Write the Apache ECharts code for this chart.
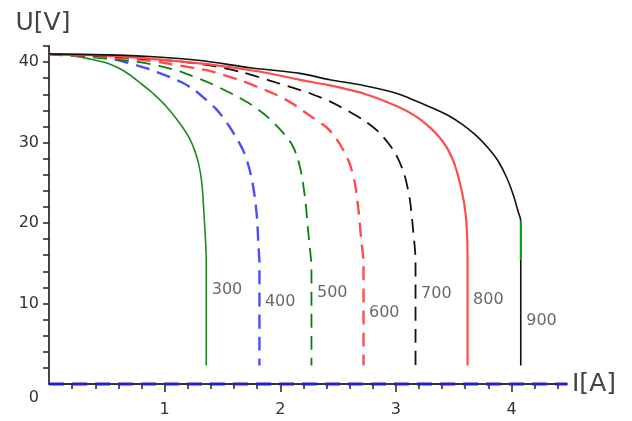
<!DOCTYPE html>
<html>
<head>
<meta charset="utf-8">
<script src="https://cdn.jsdelivr.net/npm/echarts@6/dist/echarts.min.js"></script>
<style>html,body{margin:0;padding:0;background:#fff;}#c{width:632px;height:421px;}</style>
</head>
<body>
<div id="c"></div>
<script>
// ---- data ----
var names = ['300', '400', '500', '600', '700', '800', '900'];

var i300 = [0, 0.2, 0.35, 0.5, 0.61, 0.7, 0.78, 0.86, 0.93, 1.02, 1.1, 1.17, 1.22, 1.26, 1.29, 1.31, 1.325, 1.335, 1.345, 1.355, 1.36, 1.36];
var u300 = [41, 40.8, 40.4, 39.9, 39.2, 38.4, 37.5, 36.6, 35.7, 34.4, 33.0, 31.6, 30.4, 29.0, 27.6, 26.2, 24.5, 22.5, 20.0, 17.5, 15.5, 2.3];

var i400 = [0, 0.2, 0.44, 0.61, 0.78, 0.87, 0.98, 1.05, 1.16, 1.26, 1.36, 1.45, 1.5, 1.56, 1.62, 1.68, 1.72, 1.755, 1.78, 1.8, 1.81, 1.82, 1.82];
var u400 = [41, 40.8, 40.6, 40.2, 39.5, 39.1, 38.5, 38.1, 37.4, 36.5, 35.3, 34.1, 33.2, 32.0, 30.6, 29.0, 27.4, 25.4, 23.2, 20.5, 17.5, 15.0, 2.3];

var i500 = [0, 0.3, 0.6, 0.78, 0.96, 1.16, 1.39, 1.59, 1.74, 1.89, 2.02, 2.1, 2.15, 2.19, 2.22, 2.24, 2.26, 2.27, 2.27];
var u500 = [41, 40.7, 40.3, 40.0, 39.5, 38.7, 37.4, 36.0, 34.8, 33.2, 31.3, 29.8, 28.1, 25.6, 22.4, 19.2, 16.4, 14.5, 2.3];

var i600 = [0, 0.4, 0.8, 1.04, 1.2, 1.39, 1.68, 1.94, 2.1, 2.23, 2.4, 2.48, 2.54, 2.6, 2.645, 2.675, 2.7, 2.72, 2.72];
var u600 = [41, 40.7, 40.3, 39.8, 39.4, 38.9, 37.6, 36.1, 34.9, 33.6, 31.9, 30.6, 29.2, 27.4, 25.0, 21.8, 18.0, 15.0, 2.3];

var i700 = [0, 0.5, 1.04, 1.39, 1.68, 1.91, 2.26, 2.46, 2.72, 2.86, 2.99, 3.07, 3.12, 3.15, 3.17, 3.17];
var u700 = [41, 40.7, 40.2, 39.6, 38.7, 37.7, 36.1, 34.9, 32.8, 31.2, 28.8, 26.2, 23.0, 19.0, 15.4, 2.3];

var i800 = [0, 0.5, 0.96, 1.45, 1.83, 2.17, 2.43, 2.72, 3.01, 3.18, 3.3, 3.38, 3.44, 3.5, 3.55, 3.59, 3.61, 3.62, 3.62];
var u800 = [41, 40.8, 40.3, 39.6, 38.8, 37.8, 37.1, 36.1, 34.5, 33.2, 31.8, 30.6, 29.4, 27.6, 25.2, 22.5, 20.0, 16.0, 2.3];

var i900 = [0, 0.5, 0.87, 1.31, 1.74, 2.17, 2.43, 2.72, 3.01, 3.3, 3.45, 3.58, 3.7, 3.8, 3.88, 3.96, 4.02, 4.06, 4.08, 4.08, 4.08];
var u900 = [41, 40.9, 40.7, 40.2, 39.3, 38.6, 37.8, 37.1, 36.1, 34.4, 33.4, 32.2, 30.8, 29.3, 27.8, 25.6, 23.3, 21.3, 20.3, 15.4, 2.3];

// short green piece on the 900 curve's drop
var i900g = [4.08, 4.08];
var u900g = [20.3, 15.4];

// open-circuit line drawn along U = 0
var iZero = [0, 4.48];
var uZero = [0, 0];

// curve annotation labels: placed at (I, U)
var labelI = [1.36, 1.82, 2.27, 2.72, 3.17, 3.62, 4.08];
var labelU = [11.7, 10.2, 11.3, 8.9, 11.2, 10.4, 7.8];

// axis ticks
var xMajorTicks = [1, 2, 3, 4];
var xMinorTicks = [0.2, 0.4, 0.6, 0.8, 1.2, 1.4, 1.6, 1.8, 2.2, 2.4, 2.6, 2.8, 3.2, 3.4, 3.6, 3.8, 4.2, 4.4];
var xTickLabels = [1, 2, 3, 4];
var yTicks = [2, 4, 6, 8, 10, 12, 14, 16, 18, 20, 22, 24, 26, 28, 30, 32, 34, 36, 38, 40, 42];
var yTickLabels = [0, 10, 20, 30, 40];

// ---- build ----
function pairs(a, b) { return a.map(function (v, k) { return [v, b[k]]; }); }

var FONT = 'DejaVu Sans';
var curves = [
  { name: '300', d: pairs(i300, u300), color: '#1f8a1f', type: 'solid', w: 1.6 },
  { name: '400', d: pairs(i400, u400), color: '#4d4dff', type: [14, 8], w: 2.4 },
  { name: '500', d: pairs(i500, u500), color: '#0a800a', type: [14, 8], w: 1.8 },
  { name: '600', d: pairs(i600, u600), color: '#ff4d4d', type: [14, 8], w: 2.4 },
  { name: '700', d: pairs(i700, u700), color: '#111111', type: [14, 8], w: 1.8 },
  { name: '800', d: pairs(i800, u800), color: '#ff4d4d', type: 'solid', w: 2.2 },
  { name: '900', d: pairs(i900, u900), color: '#111111', type: 'solid', w: 1.6 }
];

var series = curves.map(function (c) {
  return {
    name: c.name, type: 'line', data: c.d, showSymbol: false, symbol: 'none',
    smooth: 0.25, animation: false, silent: true,
    lineStyle: { color: c.color, width: c.w, type: c.type }
  };
});
series.push({
  name: '900g', type: 'line', data: pairs(i900g, u900g), symbol: 'none', animation: false,
  lineStyle: { color: '#119911', width: 1.8 }
});
series.push({
  name: 'zero', type: 'line', data: pairs(iZero, uZero), symbol: 'none', animation: false, clip: false,
  lineStyle: { color: '#2222cc', width: 3, type: [15, 8] }, z: 5
});
series.push({
  name: 'labels', type: 'scatter', animation: false, silent: true,
  data: labelI.map(function (v, k) { return [v, labelU[k], names[k]]; }),
  symbolSize: 1, itemStyle: { color: 'rgba(0,0,0,0)' },
  label: {
    show: true, position: 'right', distance: 5,
    formatter: function (p) { return p.value[2]; },
    color: '#444', fontSize: 16, fontFamily: FONT
  }
});

var chart = echarts.init(document.getElementById('c'), null, { renderer: 'canvas' });
chart.setOption({
  backgroundColor: '#fff',
  animation: false,
  grid: { left: 49, right: 65, top: 46, bottom: 37, containLabel: false },
  xAxis: [
    {
      type: 'value', min: 0, max: 4.48, position: 'bottom',
      name: 'I[A]', nameLocation: 'end', nameGap: 5,
      nameTextStyle: { fontSize: 25, color: '#444', fontFamily: FONT, verticalAlign: 'middle' },
      axisLine: { show: true, onZero: false, lineStyle: { color: '#333', width: 2 } },
      axisTick: { show: true, inside: false, length: 8, customValues: xMajorTicks, lineStyle: { color: '#222', width: 1.5 } },
      axisLabel: { show: true, margin: 18, customValues: xTickLabels, fontSize: 16, color: '#333', fontFamily: FONT },
      splitLine: { show: false }
    },
    {
      type: 'value', min: 0, max: 4.48, position: 'bottom',
      axisLine: { show: false },
      axisTick: { show: true, inside: false, length: 5, customValues: xMinorTicks, lineStyle: { color: '#222', width: 1.5 } },
      axisLabel: { show: false },
      splitLine: { show: false }
    }
  ],
  yAxis: {
    type: 'value', min: 0, max: 42,
    name: 'U[V]', nameLocation: 'end', nameGap: 10,
    nameTextStyle: { fontSize: 25, color: '#444', fontFamily: FONT, padding: [0, 12, 0, 0] },
    axisLine: { show: true, onZero: false, lineStyle: { color: '#444', width: 2 } },
    axisTick: { show: true, inside: false, length: 6, customValues: yTicks, lineStyle: { color: '#222', width: 1.5 } },
    axisLabel: {
      show: true, margin: 10, customValues: yTickLabels, fontSize: 16, color: '#333', fontFamily: FONT,
      formatter: function (v) { return v === 0 ? '{z|0}' : String(v); },
      rich: { z: { padding: [28, 0, 0, 0], fontSize: 16, color: '#333', fontFamily: FONT } }
    },
    splitLine: { show: false }
  },
  series: series
});
</script>
</body>
</html>
